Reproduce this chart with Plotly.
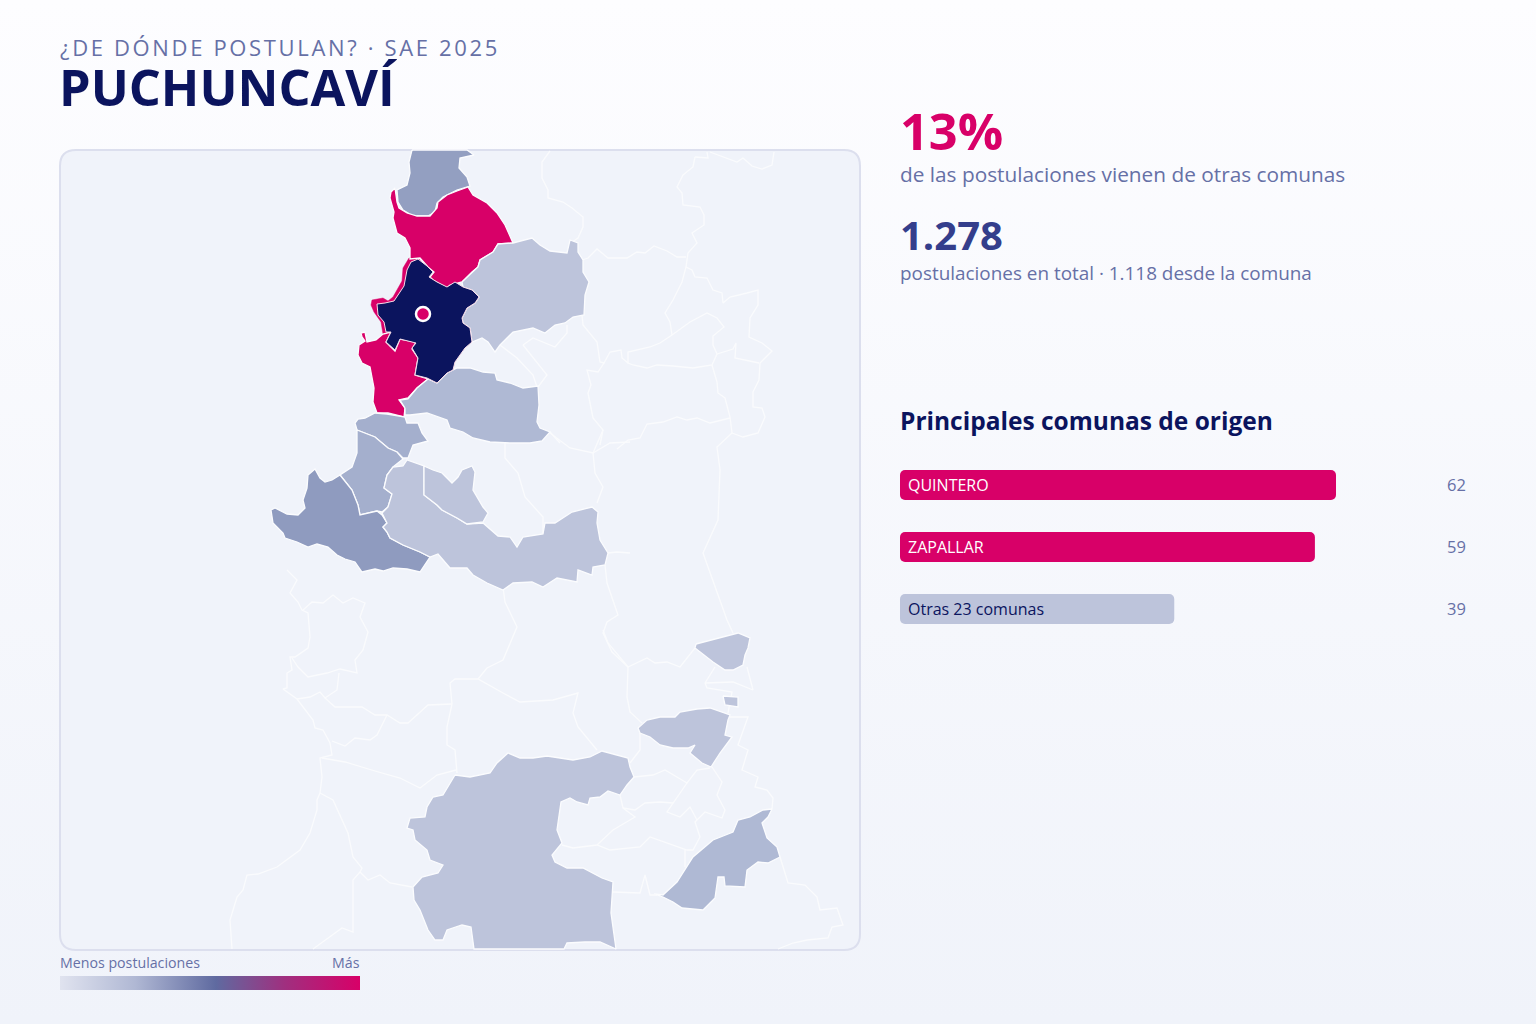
import plotly.graph_objects as go

FONT = "Open Sans"
NAVY = "#0B145E"
PINK = "#D80068"
MUTED = "#6670A6"

# ── Comunas con postulaciones: contornos en unidades de mapa ──────────────────
LA_LIGUA = [(412,150),(467,150),(474,155),(460,158),(459,168),(467,177),(470,186),(457,190),(443,197),(437,203),(435,212),(428,216),(413,216),(403,210),(398,202),(397,190),(407,185),(410,173),(409,162)]
ZAPALLAR = [(391,192),(395,188),(397,202),(399,208),(407,213),(417,216),(430,216),(437,208),(438,202),(447,195),(457,191),(468,187),(473,195),(487,203),(497,213),(505,225),(513,243),(498,244),(493,252),(480,260),(478,267),(472,272),(462,282),(450,285),(447,288),(433,280),(430,277),(434,272),(428,267),(420,258),(410,259),(410,248),(405,238),(397,233),(393,218),(394,212),(390,198)]
QUINTERO_COSTA = [(372,300),(383,298),(388,301),(393,297),(402,281),(403,268),(409,258),(418,256),(424,270),(410,290),(400,310),(390,335),(383,334),(381,322),(374,312),(371,305)]
QUINTERO = [(361,333),(365,332),(367,342),(376,340),(383,334),(391,332),(386,342),(395,351),(400,339),(416,342),(412,349),(418,358),(415,375),(428,379),(417,388),(408,398),(399,400),(405,408),(404,417),(388,413),(377,413),(373,402),(374,388),(370,367),(362,363),(358,355),(359,345),(365,341),(362,337)]
PUCHUNCAVI = [(411,262),(418,259),(427,266),(433,272),(429,277),(437,282),(447,287),(455,282),(463,287),(472,290),(479,297),(475,303),(467,308),(462,318),(463,323),(470,328),(472,342),(465,348),(455,362),(453,370),(447,373),(437,383),(427,378),(415,375),(418,358),(412,348),(416,343),(400,339),(395,350),(386,342),(391,332),(386,332),(384,322),(378,315),(377,304),(385,303),(394,301),(404,286),(407,270)]
NOGALES = [(462,282),(472,272),(478,267),(480,260),(493,252),(498,244),(513,243),(532,238),(540,245),(550,251),(567,253),(570,240),(578,243),(578,252),(583,260),(583,272),(589,282),(585,295),(584,315),(573,317),(565,323),(555,325),(545,333),(533,328),(513,332),(500,345),(495,352),(488,342),(482,338),(472,342),(470,328),(463,323),(462,318),(467,308),(475,303),(479,297),(472,290),(463,287)]
QUILLOTA = [(405,408),(400,400),(408,399),(417,388),(428,379),(437,383),(447,373),(457,368),(470,368),(483,372),(495,373),(497,380),(510,383),(523,388),(538,386),(539,405),(537,422),(540,428),(550,432),(542,441),(530,443),(510,443),(490,442),(473,438),(463,432),(450,428),(447,420),(427,413),(410,415),(405,415)]
CONCON = [(355,423),(358,419),(365,418),(375,413),(387,414),(405,417),(407,423),(418,423),(422,433),(428,441),(413,445),(408,458),(403,458),(397,452),(388,448),(375,437),(357,430)]
VINA = [(357,430),(375,437),(388,448),(397,452),(403,459),(393,467),(387,475),(384,488),(392,494),(388,507),(382,512),(377,511),(360,515),(358,505),(352,490),(340,475),(352,467),(357,453)]
VALPARAISO = [(340,475),(352,490),(358,505),(360,515),(377,511),(382,515),(387,523),(383,527),(387,532),(390,538),(403,545),(420,552),(430,557),(420,572),(407,569),(393,568),(383,571),(375,569),(362,572),(355,562),(345,559),(337,555),(328,547),(317,544),(308,547),(297,542),(285,538),(283,533),(273,523),(271,510),(275,508),(287,514),(298,515),(305,508),(303,500),(307,488),(308,475),(315,469),(320,478),(325,482),(332,480)]
CASABLANCA = [(382,513),(388,507),(392,494),(384,488),(387,475),(393,467),(403,466),(407,460),(424,466),(424,495),(437,505),(442,510),(457,518),(467,524),(483,523),(498,536),(510,537),(517,547),(523,537),(543,534),(545,523),(555,523),(572,512),(592,507),(598,512),(597,523),(600,540),(608,553),(605,565),(593,567),(592,575),(578,570),(577,582),(557,578),(543,587),(532,582),(513,583),(503,590),(487,583),(473,575),(467,568),(450,568),(438,554),(430,557),(420,552),(403,545),(390,538),(387,532),(383,527),(387,523)]
QUILPUE = [(424,466),(433,470),(442,473),(452,483),(458,477),(462,470),(472,466),(475,472),(473,490),(478,498),(483,507),(488,513),(483,522),(467,524),(457,518),(442,510),(437,505),(424,495)]
COMUNA_NE = [(696,644),(738,633),(750,638),(748,648),(745,655),(743,665),(733,670),(725,670),(713,662),(702,653),(695,648)]
COMUNA_CHICA = [(723,696),(738,697),(738,707),(725,705)]
COMUNA_CENTRO = [(638,728),(647,720),(660,717),(675,717),(680,712),(697,709),(710,708),(730,715),(728,720),(725,735),(732,737),(720,753),(711,767),(702,763),(690,753),(695,745),(688,748),(673,748),(660,745),(650,737),(640,733)]
MELIPILLA = [(455,775),(470,777),(490,773),(497,763),(508,753),(520,758),(533,758),(547,756),(573,760),(590,757),(602,751),(617,755),(628,758),(630,767),(634,777),(627,785),(620,795),(608,791),(600,797),(590,798),(588,805),(577,802),(570,798),(561,802),(557,830),(562,843),(552,855),(555,862),(567,868),(583,868),(602,878),(613,882),(611,913),(616,949),(600,942),(585,942),(567,943),(564,949),(474,949),(471,927),(462,925),(447,930),(443,940),(435,940),(428,930),(420,910),(414,900),(413,887),(422,877),(438,873),(443,865),(430,860),(427,850),(415,840),(413,830),(407,828),(410,818),(425,817),(427,807),(433,797),(443,795)]
COMUNA_SE = [(654,894),(663,895),(677,882),(693,857),(713,840),(733,832),(738,820),(750,817),(763,810),(772,809),(768,817),(762,823),(767,838),(777,847),(780,857),(768,863),(758,862),(747,870),(745,887),(725,886),(724,877),(718,877),(715,898),(703,910),(682,908),(673,902),(663,897)]

# comuna, color, color del borde, ancho del borde
BORDE = "#FBFCFE"
COMUNAS = [
    (LA_LIGUA, "#939FC1", BORDE, 1.3), (QUINTERO_COSTA, PINK, PINK, 0.5), (ZAPALLAR, PINK, BORDE, 1.3), (QUINTERO, PINK, BORDE, 1.3),
    (NOGALES, "#BDC4DB", BORDE, 1.3), (QUILLOTA, "#AFB9D4", BORDE, 1.3), (CONCON, "#A4AFCD", BORDE, 1.3), (VINA, "#A4AFCD", BORDE, 1.3),
    (VALPARAISO, "#8F9BBF", BORDE, 1.3), (CASABLANCA, "#BDC4DB", BORDE, 1.3), (QUILPUE, "#BDC4DB", BORDE, 1.3),
    (COMUNA_NE, "#BDC4DB", BORDE, 1.3), (COMUNA_CHICA, "#BDC4DB", BORDE, 1.3), (COMUNA_CENTRO, "#BDC4DB", BORDE, 1.3),
    (MELIPILLA, "#BDC4DB", BORDE, 1.3), (COMUNA_SE, "#AFB9D4", BORDE, 1.3), (PUCHUNCAVI, NAVY, "#F7DCE8", 1),
]
CENTRO_PUCHUNCAVI = (423, 314)

# ── Límites de las comunas sin postulaciones ──────────────────────────────────
LIMITES = [
    [(550,151),(542,162),(542,178),(548,190),(548,198),(563,202),(572,208),(583,217),(583,227),(578,238),(571,243)],
    [(695,157),(708,158),(707,152)],
    [(710,152),(727,158),(737,162),(743,158),(752,166),(762,169),(772,165),(774,152)],
    [(695,157),(693,167),(683,175),(677,187),(682,193),(683,205),(700,207),(704,215),(704,225),(692,233),(697,243),(688,253),(686,267)],
    [(582,260),(588,258),(597,249),(608,258),(627,258),(637,252),(645,253),(654,246),(667,251),(677,257),(686,257)],
    [(686,267),(692,270),(695,277),(707,278),(713,290),(722,293),(723,303),(730,297),(747,293),(758,290),(758,305),(750,318),(749,337),(762,343),(772,351),(760,363),(759,380),(753,392),(753,407),(762,408),(765,417),(758,433),(743,437),(732,433)],
    [(686,267),(682,282),(673,300),(665,313),(670,322),(672,335)],
    [(672,335),(690,322),(707,313),(717,318),(724,327),(713,336),(713,345),(717,354),(712,365),(693,368),(673,366),(657,365),(647,368),(633,365),(628,363),(628,352),(650,347),(660,343),(672,335)],
    [(717,354),(733,349),(736,343),(735,358),(759,363)],
    [(582,315),(583,325),(597,342),(600,362),(604,363),(610,352),(621,350),(622,358),(628,363)],
    [(604,363),(598,372),(587,370),(591,385),(588,393),(593,418),(603,430),(600,445)],
    [(712,365),(717,382),(718,393),(725,398),(730,417),(732,433)],
    [(730,418),(710,423),(697,418),(687,420),(677,417),(663,422),(647,424),(640,438),(628,440),(617,449)],
    [(550,433),(570,448),(593,453),(603,430)],
    [(593,453),(595,473),(603,487),(597,503)],
    [(593,453),(610,443),(630,442)],
    [(505,443),(505,458),(518,473),(525,497),(543,517),(543,533)],
    [(608,553),(617,552),(630,553)],
    [(732,433),(717,447),(720,470),(718,520),(703,553),(720,600),(727,620),(733,633)],
    [(605,565),(607,583),(618,615),(607,622),(603,633),(612,652),(628,667)],
    [(603,630),(608,643),(628,667),(647,658),(655,663),(667,662),(680,667),(695,648)],
    [(628,667),(627,697),(630,712),(642,723)],
    [(640,733),(640,750),(630,763)],
    [(634,777),(653,775),(665,770),(687,783),(697,770),(710,768)],
    [(687,783),(673,803),(667,812),(680,817),(690,807),(697,820)],
    [(712,767),(722,782),(717,795),(725,810),(722,818),(705,812),(695,822),(700,837),(693,850),(687,850),(650,837),(640,847),(610,850),(597,845),(573,848),(562,845)],
    [(620,795),(623,808),(635,817),(613,830),(597,845)],
    [(623,808),(635,810),(645,803),(660,802),(673,803)],
    [(685,850),(685,867)],
    [(613,892),(640,893),(645,875),(650,895),(663,895)],
    [(747,667),(753,690),(733,682),(705,683),(715,667)],
    [(705,683),(707,688),(732,692),(728,713)],
    [(728,717),(748,717),(738,745),(748,750),(742,770),(758,777),(755,787),(767,790),(773,798),(772,809)],
    [(780,857),(788,883),(805,885),(817,897),(820,910),(837,908),(843,925),(832,927),(828,938),(807,940),(793,943),(778,949)],
    [(287,570),(297,580),(290,593),(298,602),(302,610),(308,613),(310,637),(308,648),(295,657),(290,657),(292,670),(287,673),(287,688),(283,689),(297,699),(313,720),(315,728),(323,730),(330,743),(332,755),(320,758),(322,777),(320,793),(317,800),(317,810),(310,833),(300,850),(277,867),(258,874),(247,875),(243,890),(237,897),(230,920),(232,949)],
    [(303,610),(312,602),(323,603),(333,595),(343,603),(353,598),(365,603),(360,617),(368,632),(363,650),(355,660),(357,673),(340,669),(327,673),(308,677),(298,667),(292,658)],
    [(339,673),(337,690),(325,698),(320,692),(310,697),(297,699)],
    [(325,698),(335,707),(362,707),(375,715),(387,715),(400,723),(408,723),(420,712),(428,705),(452,704)],
    [(387,715),(377,735),(370,740),(355,738),(345,746),(332,741)],
    [(322,758),(345,762),(375,771),(400,778),(420,788),(437,775),(456,770)],
    [(320,793),(333,800),(348,833),(353,857),(362,868),(360,872),(368,880),(380,875),(390,883),(412,887)],
    [(360,872),(353,880),(353,932),(342,928),(313,949)],
    [(452,704),(447,727),(447,745),(455,750),(457,773)],
    [(452,704),(450,683),(455,679),(478,679),(503,693),(520,702),(553,700),(578,693),(573,713),(578,727),(597,750)],
    [(478,679),(487,668),(503,660),(517,627),(505,602),(503,587)],
    [(523,345),(533,338),(555,347),(567,333),(567,325)],
    [(523,345),(547,375),(538,387)],
    [(500,345),(517,358),(533,375),(537,387)],
    [(550,432),(560,443)],
]

# ── Barras ────────────────────────────────────────────────────────────────────
ORIGENES = ["QUINTERO", "ZAPALLAR", "Otras 23 comunas"]
POSTULACIONES = [62, 59, 39]
COLOR_BARRA = [PINK, PINK, "#BDC4DB"]
COLOR_ETIQUETA = ["white", "white", NAVY]

ESCALA_LEYENDA = [[0, "#E0E3EF"], [0.25, "#B0B8D4"], [0.52, "#5F6AA0"], [0.75, "#A02F7F"], [1, PINK]]


def xs(poly):
    return [p[0] for p in poly] + [poly[0][0]]


def ys(poly):
    return [p[1] for p in poly] + [poly[0][1]]


fig = go.Figure()

# fondo de página y leyenda, en el eje de página
fig.add_trace(go.Scatter(
    x=[0, 1536, 1536, 0, 0], y=[0, 0, 1024, 1024, 0], mode="none", fill="toself",
    fillgradient=dict(type="vertical", colorscale=[[0, "#F0F3FA"], [1, "#FDFDFF"]]),
    hoverinfo="skip", xaxis="x", yaxis="y",
))
fig.add_trace(go.Scatter(
    x=[60, 360, 360, 60, 60], y=[976, 976, 990, 990, 976], mode="none", fill="toself",
    fillgradient=dict(type="horizontal", colorscale=ESCALA_LEYENDA),
    hoverinfo="skip", xaxis="x", yaxis="y",
))

for limite in LIMITES:
    fig.add_trace(go.Scatter(
        x=[p[0] for p in limite], y=[p[1] for p in limite], mode="lines",
        line=dict(color="#FAFBFD", width=1.3), hoverinfo="skip", xaxis="x2", yaxis="y2",
    ))

for poly, color, borde, ancho in COMUNAS:
    fig.add_trace(go.Scatter(
        x=xs(poly), y=ys(poly), mode="lines", fill="toself", fillcolor=color,
        line=dict(color=borde, width=ancho), hoverinfo="skip", xaxis="x2", yaxis="y2",
    ))

fig.add_trace(go.Scatter(
    x=[CENTRO_PUCHUNCAVI[0]], y=[CENTRO_PUCHUNCAVI[1]], mode="markers",
    marker=dict(size=14, color=PINK, line=dict(color="white", width=2.5)),
    hoverinfo="skip", xaxis="x2", yaxis="y2",
))

# plotly solo redondea el extremo de la barra: un tramo hacia atrás redondea el inicio
TRAMO = 5 * 62 / 436
fig.add_trace(go.Bar(
    x=[v - TRAMO for v in POSTULACIONES], base=TRAMO, y=ORIGENES, orientation="h",
    marker=dict(color=COLOR_BARRA, line=dict(width=0)), hoverinfo="skip", xaxis="x3", yaxis="y3",
))
fig.add_trace(go.Bar(
    x=[-4 * TRAMO] * len(ORIGENES), base=4 * TRAMO, y=ORIGENES, orientation="h",
    marker=dict(color=COLOR_BARRA, line=dict(width=0)), hoverinfo="skip", xaxis="x3", yaxis="y3",
))


def texto(x, y, s, size, color, bold=False, anchor="left"):
    fig.add_annotation(
        x=x, y=y, xref="x", yref="y", text=f"<b>{s}</b>" if bold else s, showarrow=False,
        xanchor=anchor, yanchor="middle", xshift=-2 if anchor == "left" else 2,
        font=dict(family=FONT, size=size, color=color),
    )


texto(60, 47, "¿DE DÓNDE POSTULAN? · SAE 2025", 22, MUTED)
texto(59, 86, "PUCHUNCAVÍ", 50.4, NAVY, bold=True)
texto(900, 130, "13%", 50.5, PINK, bold=True)
texto(900, 174, "de las postulaciones vienen de otras comunas", 20.8, MUTED)
texto(900, 234, "1.278", 40, "#343E8C", bold=True)
texto(900, 273, "postulaciones en total · 1.118 desde la comuna", 18.9, MUTED)
texto(900, 420, "Principales comunas de origen", 24.5, NAVY, bold=True)
texto(60, 962, "Menos postulaciones", 14.2, MUTED)
texto(360, 962, "Más", 14.2, MUTED, anchor="right")

for nombre, valor, color in zip(ORIGENES, POSTULACIONES, COLOR_ETIQUETA):
    fig.add_annotation(
        x=0, y=nombre, xref="x3", yref="y3", text=nombre, showarrow=False, xanchor="left", xshift=6,
        font=dict(family=FONT, size=16, color=color),
    )
    fig.add_annotation(
        x=1466, y=nombre, xref="x", yref="y3", text=str(valor), showarrow=False, xanchor="right",
        xshift=2, yshift=1, font=dict(family=FONT, size=16.5, color=MUTED),
    )

fig.add_shape(
    type="path", xref="x2", yref="y2", layer="below",
    path="M 76 150 L 844 150 Q 860 150 860 166 L 860 934 Q 860 950 844 950 L 76 950 Q 60 950 60 934 L 60 166 Q 60 150 76 150 Z",
    fillcolor="#F0F3FA", line=dict(color="#DCDFEE", width=2),
)

hidden = dict(visible=False, fixedrange=True)
fig.update_layout(
    width=1536, height=1024,
    margin=dict(l=0, r=0, t=0, b=0),
    paper_bgcolor="#F0F3FA",
    plot_bgcolor="rgba(0,0,0,0)",
    showlegend=False,
    barmode="overlay",
    barcornerradius=5,
    bargap=1 - 30 / 62,
    xaxis=dict(domain=[0, 1], range=[0, 1536], **hidden),
    yaxis=dict(domain=[0, 1], range=[1024, 0], **hidden),
    # el eje del mapa sobra 2 px por lado para que el borde del panel no se recorte
    xaxis2=dict(domain=[58 / 1536, 862 / 1536], range=[58, 862], anchor="y2", **hidden),
    yaxis2=dict(domain=[1 - 952 / 1024, 1 - 148 / 1024], range=[952, 148], anchor="x2", **hidden),
    xaxis3=dict(domain=[900 / 1536, 1336 / 1536], range=[0, 62], anchor="y3", **hidden),
    yaxis3=dict(
        domain=[1 - 640 / 1024, 1 - 454 / 1024], anchor="x3", autorange="reversed",
        categoryorder="array", categoryarray=ORIGENES, **hidden,
    ),
)

# el espaciado del sobretítulo no existe en plotly: se aplica y se realinea a x=60
ajuste = """
document.body.style.margin = '0';
document.body.style.overflow = 'hidden';
document.querySelectorAll('.annotation-text').forEach(function (t) {
    if (t.textContent.indexOf('POSTULAN') >= 0) {
        t.style.letterSpacing = '2.65px';
        var dx = 60 - t.getBoundingClientRect().left;
        t.setAttribute('x', parseFloat(t.getAttribute('x')) + dx);
    }
});
"""
fig.write_html("out.html", post_script=ajuste, config={"displayModeBar": False})
